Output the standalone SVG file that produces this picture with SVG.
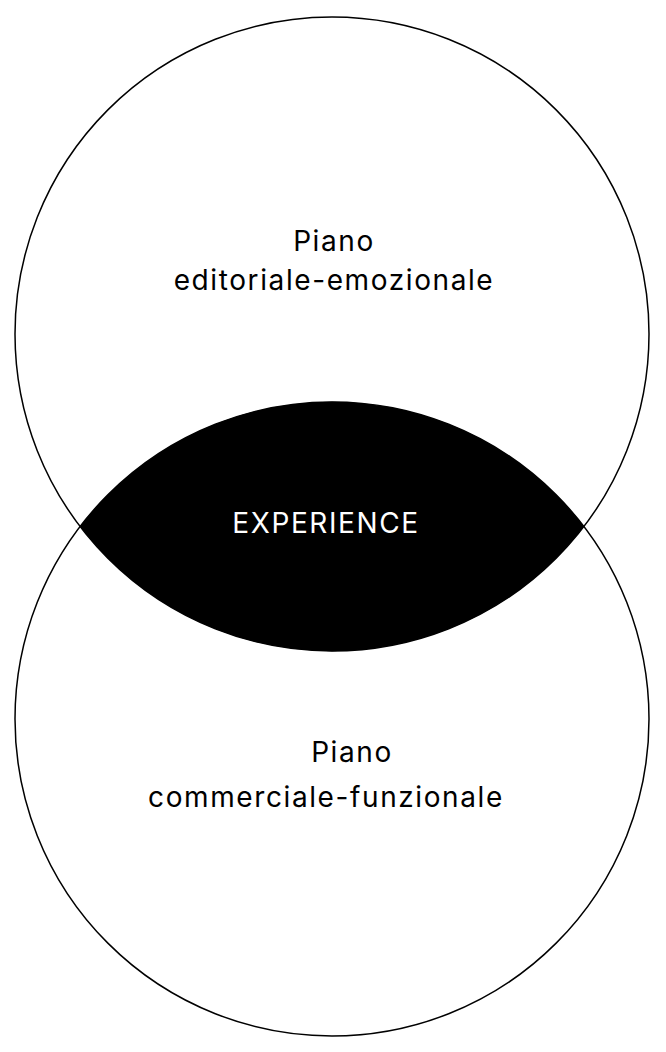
<svg xmlns="http://www.w3.org/2000/svg" width="666" height="1052" viewBox="0 0 666 1052">
<style>
.c{fill:none;stroke:#000;stroke-width:1.5}
text{font-family:"Inter","Liberation Sans",sans-serif;font-size:28px;letter-spacing:1.6px;text-anchor:middle}
</style>
<rect width="666" height="1052" fill="#fff"/>
<g id="top"><circle class="c" cx="332" cy="334" r="317"/>
<text x="334" y="251">Piano</text><text x="334" y="290">editoriale-emozionale</text></g>
<g id="bottom"><circle class="c" cx="332" cy="719" r="317"/>
<text x="352" y="762">Piano</text><text x="326" y="807">commerciale-funzionale</text></g>
<g id="experience"><path d="M80,526.5 A317,317 0 0 1 584,526.5 A317,317 0 0 1 80,526.5 Z" fill="#000"/>
<text x="326" y="533" fill="#fff">EXPERIENCE</text></g>
</svg>
